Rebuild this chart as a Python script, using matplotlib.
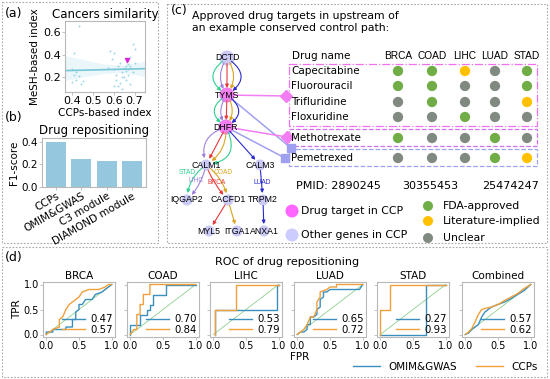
import numpy as np
import matplotlib
matplotlib.use('Agg')
from matplotlib import pyplot as plt
from matplotlib.patches import Circle, Rectangle, FancyArrowPatch
from matplotlib.lines import Line2D
import seaborn as sns

W, H = 550, 379

# ---- (a) cancers similarity ----
ccpIndex = [0.43, 0.41, 0.40, 0.41, 0.42, 0.40, 0.43, 0.44, 0.42, 0.45,
            0.58, 0.60, 0.59, 0.57, 0.60, 0.61, 0.62, 0.63, 0.64, 0.65,
            0.66, 0.67, 0.68, 0.69, 0.70, 0.68, 0.65, 0.66, 0.62, 0.64,
            0.67, 0.69, 0.70, 0.66, 0.63, 0.61, 0.67, 0.68, 0.64, 0.60]
meshIndex = [0.66, 0.42, 0.27, 0.22, 0.18, 0.16, 0.21, 0.14, 0.25, 0.17,
             0.43, 0.42, 0.36, 0.28, 0.27, 0.22, 0.30, 0.15, 0.25, 0.28,
             0.26, 0.32, 0.38, 0.50, 0.45, 0.30, 0.20, 0.18, 0.12, 0.10,
             0.22, 0.25, 0.33, 0.30, 0.33, 0.18, 0.27, 0.14, 0.20, 0.12]
highlightPair = (0.665, 0.355)

# ---- (b) drug repositioning ----
methods = ['CCPs', 'OMIM&GWAS', 'C3 module', 'DIAMOND module']
f1Scores = [0.40, 0.25, 0.23, 0.235]

# ---- (c) drug table ----
drugs = ['Capecitabine', 'Fluorouracil', 'Trifluridine', 'Floxuridine',
         'Methotrexate', 'Pemetrexed']
cancers = ['BRCA', 'COAD', 'LIHC', 'LUAD', 'STAD']
evidence = [['F', 'F', 'L', 'U', 'F'],
            ['F', 'F', 'U', 'U', 'F'],
            ['U', 'F', 'U', 'U', 'L'],
            ['U', 'U', 'F', 'U', 'U'],
            ['F', 'U', 'U', 'F', 'U'],
            ['U', 'U', 'U', 'F', 'L']]
pmids = ['2890245', '30355453', '25474247']

# ---- (d) ROC curves ----
rocNames = ['BRCA', 'COAD', 'LIHC', 'LUAD', 'STAD', 'Combined']
rocOmim = {
  'BRCA': ([0, 0, .1, .1, .3, .3, .4, .4, .45, .45, .5, .5, .55, .6, .7, .75, .85, .9, .95, 1],
           [0, .05, .05, .1, .1, .15, .15, .3, .3, .45, .5, .6, .6, .7, .7, .8, .85, .9, .95, 1]),
  'COAD': ([0, 0, .15, .15, .25, .25, .3, .3, .35, .35, .55, .55, 1],
           [0, .2, .2, .4, .4, .5, .5, .6, .6, .8, .8, 1, 1]),
  'LIHC': ([.03, .03, .97, .97, 1], [0, .5, .5, 1, 1]),
  'LUAD': ([0, .05, .1, .15, .15, .2, .2, .25, .3, .3, .35, .35, .4, .4, .45, .5, .95, 1],
           [0, .05, .05, .1, .2, .2, .35, .35, .4, .5, .55, .7, .75, .85, .85, .9, .9, 1]),
  'STAD': ([0, .7, .7, 1], [0, 0, 1, 1]),
  'Combined': ([0, .05, .1, .15, .2, .25, .3, .35, .4, .5, .6, .7, .8, .9, 1],
               [0, .03, .1, .15, .2, .35, .45, .5, .55, .6, .65, .72, .8, .88, 1]),
}
rocCcp = {
  'BRCA': ([0, .05, .1, .2, .2, .25, .3, .35, .4, .45, .5, .55, .65, .8, .9, .95, 1],
           [0, .05, .1, .15, .3, .35, .5, .6, .65, .7, .75, .85, .9, .9, .95, 1, 1]),
  'COAD': ([0, .05, .1, .1, .15, .15, .2, .2, .3, .3, 1],
           [0, .1, .1, .4, .4, .6, .6, .8, .8, 1, 1]),
  'LIHC': ([.03, .03, .35, .35, 1], [0, .5, .5, 1, 1]),
  'LUAD': ([0, .05, .1, .15, .2, .25, .3, .3, .35, .35, .45, .5, .6, .6, 1],
           [0, .05, .1, .2, .35, .35, .5, .65, .75, .85, .9, .95, .95, 1, 1]),
  'STAD': ([0, 0, .15, .15, 1], [0, .5, .5, 1, 1]),
  'Combined': ([0, .05, .1, .15, .2, .25, .3, .4, .5, .6, .7, .8, .9, 1],
               [0, .05, .12, .25, .4, .5, .52, .55, .6, .68, .75, .82, .92, 1]),
}
aucOmim = ['0.47', '0.70', '0.53', '0.65', '0.27', '0.57']
aucCcp = ['0.57', '0.84', '0.79', '0.72', '0.93', '0.62']

blue = '#3b8fbf'
orange = '#f0a03a'
spineColor = '#b8b8b8'
statusColor = {'F': '#70ad47', 'L': '#ffc000', 'U': '#808a80'}
stadC, lihcC, brcaC, coadC, luadC = '#30d090', '#a080e0', '#e83a3a', '#d9a520', '#2a2acc'
lavender = '#cacaf4'
magenta = '#f27ef2'

plt.rcParams['font.family'] = 'DejaVu Sans'
fig = plt.figure(figsize=(5.5, 3.79), dpi=100)

def axPx(l, t, r, b):
  return fig.add_axes([l / W, 1 - b / H, (r - l) / W, (b - t) / H])

def styleAx(ax, size=7.5):
  for s in ax.spines.values():
    s.set_color(spineColor)
    s.set_linewidth(0.8)
  ax.tick_params(labelsize=size, length=2, width=0.6, color=spineColor, pad=1)

# background layer for frames, network and table
bg = fig.add_axes([0, 0, 1, 1])
bg.set_xlim(0, W)
bg.set_ylim(H, 0)
bg.axis('off')

frameKw = dict(fill=False, ec='#a8a8a8', lw=0.8, ls=(0, (1.5, 1.5)))
bg.add_patch(Rectangle((2, 2), 156, 241, **frameKw))
bg.add_patch(Rectangle((167, 4), 380, 239, **frameKw))
bg.add_patch(Rectangle((2, 247), 545, 130, **frameKw))

bg.text(5, 17, '(a)', fontsize=9)
bg.text(5, 121, '(b)', fontsize=9)
bg.text(171, 14, '(c)', fontsize=9)
bg.text(5, 261, '(d)', fontsize=9)

# ---- (a) ----
axA = axPx(65, 21, 145, 92)
axA.set_xlim(0.365, 0.75)
axA.set_ylim(0.07, 0.70)
sns.regplot(x=np.array(ccpIndex), y=np.array(meshIndex), ax=axA, color='#76c6d8',
            scatter_kws=dict(s=2, linewidths=0, color='#86cfe0'),
            line_kws=dict(lw=1.2), truncate=False, seed=3)
axA.scatter([highlightPair[0]], [highlightPair[1]], marker='v', s=8, color='#dd22dd', zorder=5)
axA.set_xlim(0.365, 0.75)
axA.set_ylim(0.07, 0.70)
axA.set_xticks([0.4, 0.5, 0.6, 0.7])
axA.set_yticks([0.2, 0.4, 0.6])
axA.set_title('Cancers similarity', fontsize=8.5, pad=2)
axA.set_xlabel('CCPs-based index', fontsize=7.5, labelpad=1)
axA.set_ylabel('MeSH-based index', fontsize=7.5, labelpad=2)
styleAx(axA, 8)

# ---- (b) ----
axB = axPx(42, 138, 146, 187)
axB.bar(np.arange(len(methods)), f1Scores, width=0.8, color='#95c8de')
axB.set_xlim(-0.55, 3.55)
axB.set_ylim(0, 0.435)
axB.set_yticks([0.0, 0.2, 0.4])
axB.set_xticks(np.arange(len(methods)))
axB.set_xticklabels(methods, rotation=30, ha='right', rotation_mode='anchor')
axB.set_title('Drug repositioning', fontsize=8.5, pad=3)
axB.set_ylabel('F1-score', fontsize=7.5, labelpad=2)
styleAx(axB, 7.5)

# ---- (c) ----
bg.text(192, 22, 'Approved drug targets in upstream of\nan example conserved control path:',
        fontsize=7.8, va='center', linespacing=1.3)

nodes = {'DCTD': (227, 58), 'TYMS': (227, 95), 'DHFR': (226, 127),
         'CALM1': (206, 165), 'CALM3': (260, 165), 'IQGAP2': (187, 200),
         'CACFD1': (228, 200), 'TRPM2': (263, 200), 'MYL5': (209, 231),
         'ITGA1': (237, 231), 'ANXA1': (264, 231)}
targetNodes = ['TYMS', 'DHFR']

# links from targets to table
tableLinks = [('TYMS', (286, 96), magenta, 'D'), ('TYMS', (291, 148), '#a0a0f0', 's'),
              ('DHFR', (287, 137), magenta, 'D'), ('DHFR', (285, 158), '#a0a0f0', 's')]
for src, dst, c, m in tableLinks:
  x0, y0 = nodes[src]
  bg.plot([x0, dst[0]], [y0, dst[1]], color=c, lw=1.1, zorder=1)
  bg.plot([dst[0]], [dst[1]], marker=m, ms=6 if m == 'D' else 5.5, color=c, zorder=2)

for n, (x, y) in nodes.items():
  big = n in ['DCTD', 'TYMS', 'DHFR']
  bg.add_patch(Circle((x, y), 7.5 if big else 5.5,
                      color=magenta if n in targetNodes else lavender, zorder=2, lw=0))

edges = [('DCTD', 'TYMS', stadC, 0.75), ('DCTD', 'TYMS', lihcC, 0.35), ('DCTD', 'TYMS', brcaC, 0),
         ('DCTD', 'TYMS', coadC, -0.35), ('DCTD', 'TYMS', luadC, -0.75),
         ('TYMS', 'DHFR', stadC, 0.75), ('TYMS', 'DHFR', lihcC, 0.35), ('TYMS', 'DHFR', brcaC, 0),
         ('TYMS', 'DHFR', coadC, -0.35), ('TYMS', 'DHFR', luadC, -0.75),
         ('DHFR', 'CALM1', lihcC, 0.5), ('DHFR', 'CALM1', brcaC, 0),
         ('DHFR', 'CALM1', coadC, -0.3), ('DHFR', 'CALM1', stadC, -0.7),
         ('DHFR', 'CALM3', luadC, 0),
         ('CALM1', 'IQGAP2', stadC, 0.25), ('CALM1', 'IQGAP2', lihcC, -0.15),
         ('CALM1', 'CACFD1', brcaC, 0.1), ('CALM1', 'CACFD1', coadC, -0.2),
         ('CALM3', 'TRPM2', luadC, 0), ('CACFD1', 'MYL5', brcaC, 0),
         ('CACFD1', 'ITGA1', coadC, 0), ('TRPM2', 'ANXA1', luadC, 0)]
for a, b, c, r in edges:
  bg.add_patch(FancyArrowPatch(nodes[a], nodes[b], connectionstyle='arc3,rad=%s' % r,
                               arrowstyle='-|>', mutation_scale=5, color=c, lw=0.8,
                               shrinkA=4, shrinkB=5, zorder=3))

for n, (x, y) in nodes.items():
  bg.text(x, y, n, fontsize=6.3, family='Liberation Sans', ha='center', va='center', zorder=4)

edgeLabels = [('STAD', 187, 173, stadC), ('LIHC', 196, 181, lihcC), ('BRCA', 217, 182, brcaC),
              ('COAD', 223, 173, coadC), ('LUAD', 262, 182, luadC)]
for t, x, y, c in edgeLabels:
  bg.text(x, y, t, fontsize=4.8, family='Liberation Sans', color=c, ha='center', va='center', zorder=4)

# table
colX = [398, 432, 465, 495, 527]
rowY = [71, 86, 102, 117, 138, 158]
bg.text(292, 56, 'Drug name', fontsize=7.5, va='center')
for c, x in zip(cancers, colX):
  bg.text(x, 56, c, fontsize=7.3, family='Liberation Sans', ha='center', va='center')
for i, d in enumerate(drugs):
  bg.text(291, rowY[i], d, fontsize=7.5, va='center')
  bg.scatter(colX, [rowY[i]] * len(colX), s=55, c=[statusColor[e] for e in evidence[i]],
             linewidths=0, zorder=3)

bg.add_patch(Rectangle((289, 64), 248, 62, fill=False, ec='#f070f0', lw=0.9, ls='-.'))
bg.add_patch(Rectangle((289, 129), 248, 17, fill=False, ec='#d070f0', lw=0.9, ls='--'))
bg.add_patch(Rectangle((289, 149), 248, 17, fill=False, ec='#a0a0f0', lw=0.9, ls='--'))

bg.text(296, 186, 'PMID: ' + pmids[0], fontsize=8, va='center')
bg.text(430, 186, pmids[1], fontsize=8, va='center', ha='center')
bg.text(511, 186, pmids[2], fontsize=8, va='center', ha='center')

bg.add_patch(Circle((292, 211), 6.5, color='#ff66ff', lw=0))
bg.add_patch(Circle((292, 235), 6.5, color='#ccccff', lw=0))
bg.text(301, 211, 'Drug target in CCP', fontsize=7.8, va='center')
bg.text(301, 235, 'Other genes in CCP', fontsize=7.8, va='center')
legY = [206, 221, 238]
legLabels = ['FDA-approved', 'Literature-implied', 'Unclear']
for k, y, lab in zip(['F', 'L', 'U'], legY, legLabels):
  bg.add_patch(Circle((428, y), 5, color=statusColor[k], lw=0))
  bg.text(443, y, lab, fontsize=7.8, va='center')

# ---- (d) ----
bg.text(287, 262, 'ROC of drug repositioning', fontsize=8, ha='center', va='center')
lefts = [43, 127, 210, 294, 377, 462]
for i, name in enumerate(rocNames):
  ax = axPx(lefts[i], 282, lefts[i] + 72, 337)
  ax.plot([0, 1], [0, 1], color='#8fd08f', lw=0.6)
  l1, = ax.plot(rocOmim[name][0], rocOmim[name][1], color=blue, lw=1.0)
  l2, = ax.plot(rocCcp[name][0], rocCcp[name][1], color=orange, lw=1.0)
  ax.set_xlim(-0.05, 1.05)
  ax.set_ylim(-0.05, 1.05)
  ax.set_xticks([0, 0.5, 1])
  ax.set_xticklabels(['0.0', '0.5', '1.0'])
  ax.set_yticks([0, 0.5, 1])
  if i == 0:
    ax.set_yticklabels(['0.0', '0.5', '1.0'])
    ax.set_ylabel('TPR', fontsize=7.5, labelpad=1)
  else:
    ax.set_yticklabels([])
    ax.tick_params(axis='y', length=0)
  ax.set_title(name, fontsize=7.5, pad=2)
  ax.legend([l1, l2], [aucOmim[i], aucCcp[i]], loc='lower right', frameon=False,
            fontsize=7.3, handlelength=2.3, handletextpad=0.5, labelspacing=0.05,
            borderpad=0.1, borderaxespad=0.1)
  styleAx(ax, 7)

bg.text(300, 357, 'FPR', fontsize=7.5, ha='center', va='center')
fig.legend([Line2D([], [], color=blue, lw=1), Line2D([], [], color=orange, lw=1)],
           ['OMIM&GWAS', 'CCPs'], loc='center', bbox_to_anchor=(445 / W, 1 - 367 / H),
           ncol=2, frameon=False, fontsize=7.5, handlelength=2.6, columnspacing=1.8,
           handletextpad=0.8)

fig.savefig('out.png', dpi=100)
